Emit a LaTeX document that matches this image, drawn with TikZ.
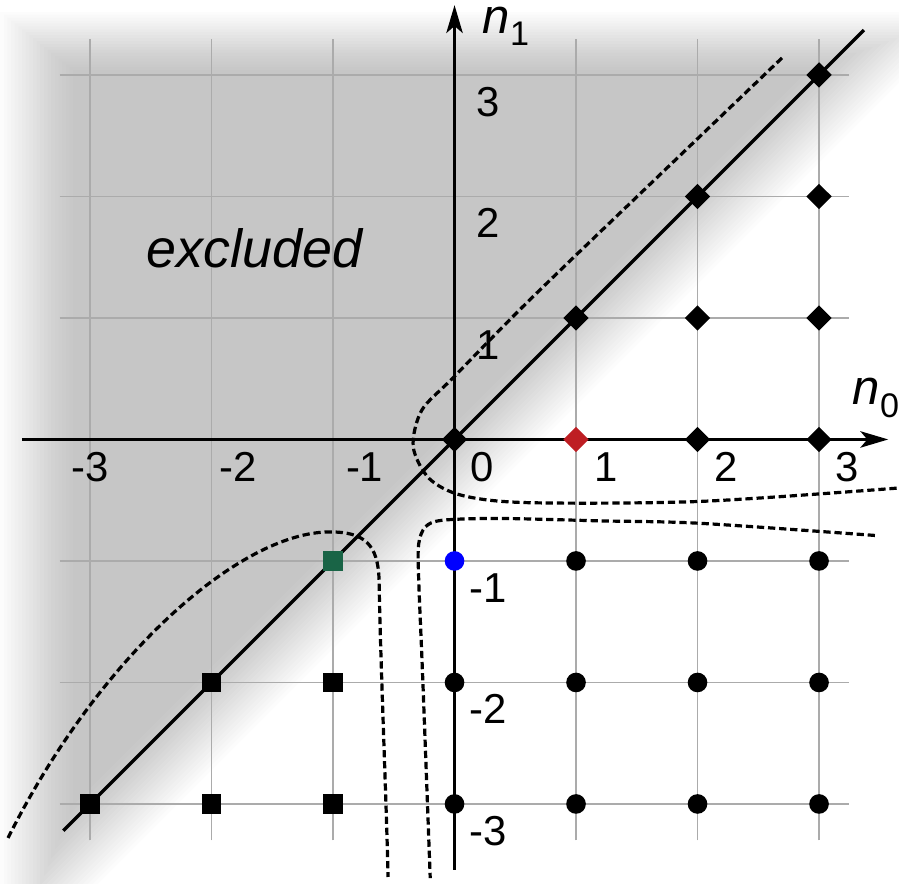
\documentclass[tikz,border=0pt]{standalone}
\usepackage{fontspec}
\setmainfont{Liberation Sans}
\usetikzlibrary{arrows.meta,shapes.geometric}
\definecolor{ptred}{RGB}{190,30,35}
\definecolor{ptgreen}{RGB}{25,100,70}

\begin{document}
\begin{tikzpicture}[
    dmd/.style={diamond, fill=black, inner sep=0pt, minimum size=6.1pt},
    dot/.style={circle, fill=black, inner sep=0pt, minimum size=4.6pt},
    sqr/.style={rectangle, fill=black, inner sep=0pt, minimum size=4.5pt},
    ticklab/.style={inner sep=0pt, font=\fontsize{9.8}{11}\selectfont},
    axlab/.style={inner sep=0pt, anchor=base west, font=\fontsize{11.5}{13}\selectfont\itshape},
    curve/.style={line width=0.75pt, dash pattern=on 1.7pt off 0.9pt},
    axarrow/.style={-{Stealth[length=6.5pt,width=3.8pt,inset=1.6pt]}, line width=0.9pt}
]
    % Fix the picture size
    \useasboundingbox (-3.741,-3.658) rectangle (3.658,3.617);

    % Soft gray wedge of the excluded region, built up from thin layers
    \foreach \d in {-0.3,-0.27,...,0.31} {
        \pgfmathsetmacro\xl{-3.44-\d}
        \pgfmathsetmacro\yt{3.28+0.8*\d}
        \pgfmathsetmacro\xr{\yt+0.3+1.414*\d}
        \pgfmathsetmacro\yb{\xl-0.3-1.414*\d}
        \fill[black, fill opacity=0.0106] (\xl,\yt) -- (\xr,\yt) -- (\xl,\yb) -- cycle;
    }

    % Grid
    \foreach \k in {-3,...,3} {
        \draw[black!33, line width=0.35pt] (\k,-3.3) -- (\k,3.3);
        \draw[black!33, line width=0.35pt] (-3.25,\k) -- (3.25,\k);
    }

    % Dashed level curves
    \draw[curve] plot[smooth] coordinates {(2.695,3.14) (1.65,2.14) (0.62,1.15) (-0.01,0.51) (-0.27,0.24) (-0.34,-0.06) (-0.21,-0.32) (0.06,-0.46) (0.6,-0.52) (2.02,-0.51) (3.65,-0.40)};
    \draw[curve] plot[smooth] coordinates {(3.46,-0.79) (2.02,-0.69) (1.2,-0.67) (0.37,-0.65) (-0.1,-0.665) (-0.24,-0.72) (-0.295,-0.86) (-0.295,-1.15) (-0.26,-2.01) (-0.2,-3.61)};
    \draw[curve] (-3.675,-3.28) .. controls (-2.919,-1.769) and (-1.76,-0.761) .. (-1.025,-0.761)
        .. controls (-0.737,-0.761) and (-0.63,-0.868) .. (-0.621,-1.156)
        .. controls (-0.613,-1.733) and (-0.56,-3.0) .. (-0.547,-3.601);

    % Diagonal n1 = n0
    \draw[line width=0.75pt] (-3.22,-3.22) -- (3.37,3.37);

    % Axes
    \draw[axarrow] (-3.56,0) -- (3.57,0);
    \draw[axarrow] (0,-3.54) -- (0,3.575);
    \node[axlab] (n0lab) at (3.27,0.284) {n\raisebox{-3pt}{\fontsize{8}{9}\selectfont\upshape 0}};
    \node[axlab] (n1lab) at (0.226,3.345) {n\raisebox{-3pt}{\fontsize{8}{9}\selectfont\upshape 1}};

    % Tick labels
    \foreach \x/\p in {-3/-3.0, -2/-1.78, -1/-0.74, 0/0.226, 1/1.25, 2/2.235, 3/3.23}
        \node[ticklab] (x\x) at (\p,-0.225) {\x};
    \foreach \y in {-3,-2,-1,1,2,3}
        \node[ticklab] (y\y) at (0.28,{\y-0.22}) {\y};

    % Region label
    \node[font=\fontsize{12.6}{15}\selectfont\itshape, inner sep=0pt] (excl) at (-1.646,1.572) {excluded};

    % Lattice points
    \foreach \x/\y in {0/0,1/1,2/2,3/3,2/0,3/0,2/1,3/1,3/2}
        \node[dmd] (d\x\y) at (\x,\y) {};
    \node[dmd, fill=ptred] (d10) at (1,0) {};
    \foreach \x/\y in {1/-1,2/-1,3/-1,0/-2,1/-2,2/-2,3/-2,0/-3,1/-3,2/-3,3/-3}
        \node[dot] (c\x\y) at (\x,\y) {};
    \node[dot, fill=blue] (c0-1) at (0,-1) {};
    \foreach \x/\y in {-3/-3,-2/-2,-1/-2,-2/-3,-1/-3}
        \node[sqr] (s\x\y) at (\x,\y) {};
    \node[sqr, fill=ptgreen] (s-1-1) at (-1,-1) {};
\end{tikzpicture}
\end{document}
